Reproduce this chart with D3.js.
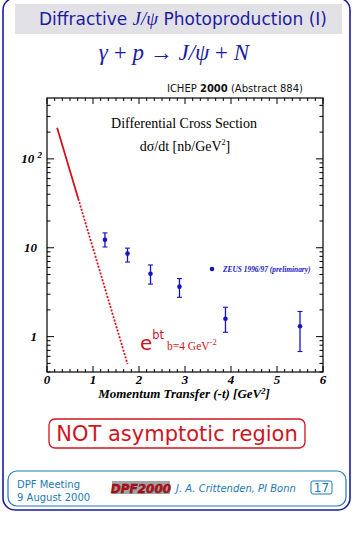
<!DOCTYPE html>
<html lang="en">
<head>
  <meta charset="UTF-8">
  <title>Diffractive J/psi Photoproduction (I)</title>
  <script src="https://d3js.org/d3.v7.min.js"></script>
  <style>
    body { margin: 0; padding: 0; background: #fff; }
    svg { display: block; }
    .serif { font-family: "Liberation Serif", "DejaVu Serif", serif; }
    .sans { font-family: "DejaVu Sans", Verdana, sans-serif; }
  </style>
</head>
<body>
<div id="chart"></div>
<script>
  // ZEUS 1996/97 (preliminary) points: -t, dsigma/dt, error band low/high
  const tValues = [1.26, 1.75, 2.25, 2.88, 3.88, 5.5];
  const xsValues = [12.3, 8.6, 5.1, 3.65, 1.59, 1.31];
  const errLow = [10.2, 6.9, 3.9, 2.77, 1.12, 0.68];
  const errHigh = [14.7, 9.9, 6.4, 4.5, 2.14, 1.92];

  // exp(-b t) curve with b = 4 GeV^-2
  const slopeB = 4;
  const norm = 540;
  const curveT = [0.22, 0.35, 0.5, 0.68, 0.9, 1.1, 1.3, 1.5, 1.75];
  const solidEnd = 0.68;

  const xTickLabels = ["0", "1", "2", "3", "4", "5", "6"];
  const yTickValues = [1, 10, 100];

  const W = 363, H = 535;
  const navy = "#1c1ca0", blue = "#1414c4", red = "#d0141e", teal = "#1e78b4";

  const svg = d3.select("#chart").append("svg")
    .attr("width", W).attr("height", H);

  svg.append("rect").attr("width", W).attr("height", H).attr("fill", "#fff");

  // outer frame
  svg.append("rect")
    .attr("x", 3).attr("y", -2).attr("width", 347).attr("height", 512)
    .attr("rx", 12).attr("fill", "none").attr("stroke", navy).attr("stroke-width", 1.6);

  // title bar
  svg.append("rect")
    .attr("x", 15).attr("y", 4).attr("width", 327).attr("height", 30)
    .attr("fill", "#e2e2e6");

  const title = svg.append("text").attr("class", "sans")
    .attr("x", 183).attr("y", 25).attr("text-anchor", "middle")
    .attr("fill", navy).style("font-size", "17px");
  title.append("tspan").text("Diffractive ");
  title.append("tspan").attr("class", "serif").style("font-style", "italic")
    .style("font-size", "19px").text("J/ψ");
  title.append("tspan").text(" Photoproduction (I)");

  const eq = svg.append("text").attr("class", "serif")
    .attr("x", 174).attr("y", 60).attr("text-anchor", "middle")
    .attr("fill", navy).style("font-size", "23px");
  eq.append("tspan").style("font-style", "italic").text("γ");
  eq.append("tspan").text(" + ");
  eq.append("tspan").style("font-style", "italic").text("p");
  eq.append("tspan").text(" → ");
  eq.append("tspan").style("font-style", "italic").text("J/ψ");
  eq.append("tspan").text(" + ");
  eq.append("tspan").style("font-style", "italic").text("N");

  // plot area
  const plot = { left: 47, right: 323, top: 98, bottom: 372 };
  const x = d3.scaleLinear().domain([0, 6]).range([plot.left, plot.right]);
  const y = d3.scaleLog().domain([0.4, 484]).range([plot.bottom, plot.top]);

  const ichep = svg.append("text").attr("class", "sans")
    .attr("x", 303).attr("y", 92).attr("text-anchor", "end")
    .attr("fill", "#111").style("font-size", "10px");
  ichep.append("tspan").text("ICHEP ");
  ichep.append("tspan").style("font-weight", "bold").text("2000");
  ichep.append("tspan").text(" (Abstract 884)");

  svg.append("rect")
    .attr("x", plot.left).attr("y", plot.top)
    .attr("width", plot.right - plot.left).attr("height", plot.bottom - plot.top)
    .attr("fill", "none").attr("stroke", "#000").attr("stroke-width", 1.2);

  // ticks (inward) on all four sides
  const xMinor = d3.range(0, 36.5).map(i => i / 6);
  const yMinor = [];
  [0.1, 1, 10, 100].forEach(d => d3.range(1, 10).forEach(k => {
    const v = d * k;
    if (v >= 0.4 && v <= 484) yMinor.push(v);
  }));
  const tickG = svg.append("g").attr("stroke", "#000").attr("stroke-width", 1);
  xMinor.forEach(v => {
    const len = Math.abs(v - Math.round(v)) < 1e-6 ? 6 : 3;
    tickG.append("line").attr("x1", x(v)).attr("x2", x(v))
      .attr("y1", plot.bottom).attr("y2", plot.bottom - len);
    tickG.append("line").attr("x1", x(v)).attr("x2", x(v))
      .attr("y1", plot.top).attr("y2", plot.top + len);
  });
  yMinor.forEach(v => {
    const len = yTickValues.includes(v) ? 7 : 3.5;
    tickG.append("line").attr("y1", y(v)).attr("y2", y(v))
      .attr("x1", plot.left).attr("x2", plot.left + len);
    tickG.append("line").attr("y1", y(v)).attr("y2", y(v))
      .attr("x1", plot.right).attr("x2", plot.right - len);
  });

  // tick labels
  svg.append("g").selectAll("text").data(xTickLabels).join("text")
    .attr("class", "serif")
    .attr("x", (d, i) => x(i)).attr("y", 384).attr("text-anchor", "middle")
    .style("font-size", "13px").style("font-weight", "bold").style("font-style", "italic")
    .text(d => d);

  yTickValues.forEach(v => {
    const t = svg.append("text").attr("class", "serif")
      .attr("x", 37).attr("y", y(v) + 4).attr("text-anchor", "end")
      .style("font-size", "13px").style("font-weight", "bold").style("font-style", "italic");
    if (v === 100) {
      t.attr("x", 42);
      t.append("tspan").text("10 ");
      t.append("tspan").attr("dy", -5).style("font-size", "9px").text("2");
    } else {
      t.text(String(v));
    }
  });

  const xTitle = svg.append("text").attr("class", "serif")
    .attr("x", 184).attr("y", 398).attr("text-anchor", "middle")
    .style("font-size", "13px").style("font-weight", "bold").style("font-style", "italic");
  xTitle.append("tspan").text("Momentum Transfer (-t) [GeV");
  xTitle.append("tspan").attr("dy", -4).style("font-size", "8.5px").text("2");
  xTitle.append("tspan").attr("dy", 4).text("]");

  // inner labels
  svg.append("text").attr("class", "serif")
    .attr("x", 184).attr("y", 128).attr("text-anchor", "middle")
    .style("font-size", "14px").text("Differential Cross Section");
  const dsig = svg.append("text").attr("class", "serif")
    .attr("x", 185).attr("y", 151).attr("text-anchor", "middle")
    .style("font-size", "14px");
  dsig.append("tspan").text("dσ/dt [nb/GeV");
  dsig.append("tspan").attr("dy", -6).style("font-size", "8px").text("2");
  dsig.append("tspan").attr("dy", 6).text("]");

  // exponential curve
  const line = d3.line().x(d => x(d)).y(d => y(norm * Math.exp(-slopeB * d)));
  svg.append("path")
    .attr("d", line(curveT.filter(d => d <= solidEnd)))
    .attr("fill", "none").attr("stroke", red).attr("stroke-width", 1.8);
  svg.append("path")
    .attr("d", line(curveT.filter(d => d >= solidEnd)))
    .attr("fill", "none").attr("stroke", red).attr("stroke-width", 1.8)
    .attr("stroke-dasharray", "2,1.5");

  const ebt = svg.append("text").attr("class", "sans").attr("fill", red)
    .attr("x", 140).attr("y", 350).style("font-size", "20px");
  ebt.append("tspan").text("e");
  ebt.append("tspan").attr("dy", -11).style("font-size", "11.5px").text("bt");
  const bLab = svg.append("text").attr("class", "serif").attr("fill", red)
    .attr("x", 167).attr("y", 350).style("font-size", "11.5px");
  bLab.append("tspan").text("b=4 GeV");
  bLab.append("tspan").attr("dy", -5).style("font-size", "8.5px").text("-2");

  // ZEUS data
  const pts = tValues.map((t, i) => ({ t, v: xsValues[i], lo: errLow[i], hi: errHigh[i] }));
  const dataG = svg.append("g").attr("stroke", blue).attr("fill", blue);
  dataG.selectAll("line.bar").data(pts).join("line").attr("class", "bar")
    .attr("x1", d => x(d.t)).attr("x2", d => x(d.t))
    .attr("y1", d => y(d.lo)).attr("y2", d => y(d.hi)).attr("stroke-width", 1.3);
  ["lo", "hi"].forEach(k => {
    dataG.selectAll("line.cap" + k).data(pts).join("line").attr("class", "cap" + k)
      .attr("x1", d => x(d.t) - 2.5).attr("x2", d => x(d.t) + 2.5)
      .attr("y1", d => y(d[k])).attr("y2", d => y(d[k])).attr("stroke-width", 1.1);
  });
  dataG.selectAll("circle").data(pts).join("circle")
    .attr("cx", d => x(d.t)).attr("cy", d => y(d.v))
    .attr("r", 2.3).attr("stroke", "none");

  // legend
  svg.append("circle").attr("cx", 212).attr("cy", 269).attr("r", 2.3)
    .attr("fill", blue);
  svg.append("text").attr("class", "serif").attr("fill", blue)
    .attr("x", 223).attr("y", 272)
    .style("font-size", "7.4px").style("font-weight", "bold").style("font-style", "italic")
    .text("ZEUS 1996/97 (preliminary)");

  // NOT asymptotic region
  svg.append("rect").attr("x", 49).attr("y", 419).attr("width", 256).attr("height", 29)
    .attr("rx", 6).attr("fill", "none").attr("stroke", red).attr("stroke-width", 1.3);
  svg.append("text").attr("class", "sans").attr("fill", red)
    .attr("x", 177).attr("y", 441).attr("text-anchor", "middle")
    .style("font-size", "21px").text("NOT asymptotic region");

  // footer
  svg.append("rect").attr("x", 8).attr("y", 471).attr("width", 338).attr("height", 35)
    .attr("rx", 9).attr("fill", "none").attr("stroke", teal).attr("stroke-width", 1.2);
  svg.append("text").attr("class", "sans").attr("fill", teal)
    .attr("x", 17).attr("y", 488).style("font-size", "10px").text("DPF Meeting");
  svg.append("text").attr("class", "sans").attr("fill", teal)
    .attr("x", 17).attr("y", 501).style("font-size", "10px").text("9 August 2000");
  svg.append("rect").attr("x", 112).attr("y", 481).attr("width", 58).attr("height", 13)
    .attr("fill", "#a4a4a8");
  svg.append("text").attr("class", "sans").attr("fill", "#c01018")
    .attr("x", 141).attr("y", 493).attr("text-anchor", "middle")
    .style("font-size", "12px").style("font-weight", "bold").style("font-style", "italic")
    .attr("stroke", "#600").attr("stroke-width", 0.4)
    .text("DPF2000");
  svg.append("text").attr("class", "sans").attr("fill", teal)
    .attr("x", 176).attr("y", 492).style("font-size", "10px").style("font-style", "italic")
    .text("J. A. Crittenden, PI Bonn");
  svg.append("rect").attr("x", 311).attr("y", 481).attr("width", 21).attr("height", 13)
    .attr("rx", 2).attr("fill", "none").attr("stroke", teal).attr("stroke-width", 1);
  svg.append("text").attr("class", "sans").attr("fill", teal)
    .attr("x", 321.5).attr("y", 492).attr("text-anchor", "middle")
    .style("font-size", "12px").text("17");
</script>
</body>
</html>
